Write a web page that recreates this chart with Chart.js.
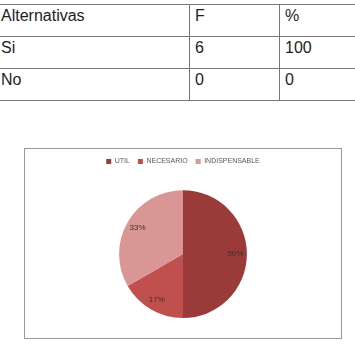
<!DOCTYPE html>
<html>
<head>
<meta charset="utf-8">
<script src="https://cdn.jsdelivr.net/npm/chart.js@4/dist/chart.umd.min.js"></script>
<style>
  body { margin: 0; background: #fff; font-family: "Liberation Sans", Arial, sans-serif; }
  #tabla { position: absolute; left: -5px; top: 4px; border-collapse: collapse; table-layout: fixed; width: 375px; font-size: 16px; color: #222; }
  #tabla td { border: 1px solid #777; height: 32px; padding: 2px 5px 0 5px; vertical-align: top; line-height: 18px; box-sizing: border-box; }
  #box { position: absolute; left: 24px; top: 148px; width: 316px; height: 189px; border: 1px solid #999; }
  #myChart { position: absolute; left: 0; top: 0; }
</style>
</head>
<body>
<table id="tabla">
  <colgroup><col style="width:194px"><col style="width:90px"><col style="width:91px"></colgroup>
  <tr><td>Alternativas</td><td>F</td><td>%</td></tr>
  <tr><td>Si</td><td>6</td><td>100</td></tr>
  <tr><td>No</td><td>0</td><td>0</td></tr>
</table>
<div id="box"><canvas id="myChart" width="316" height="189"></canvas></div>
<script>
const labels = ['UTIL', 'NECESARIO', 'INDISPENSABLE'];
const values = [3, 1, 2];
const colors = ['#9B3B39', '#C0504D', '#D99694'];

// porcentajes dentro de cada porcion
const pctLabels = {
    id: 'pctLabels',
    afterDatasetsDraw(chart) {
        const ctx = chart.ctx;
        const meta = chart.getDatasetMeta(0);
        const total = values.reduce((a, b) => a + b, 0);
        ctx.save();
        ctx.font = '8px "Liberation Sans", Arial, sans-serif';
        ctx.fillStyle = '#333';
        ctx.textAlign = 'center';
        ctx.textBaseline = 'middle';
        meta.data.forEach((arc, i) => {
            const p = arc.getProps(['x', 'y', 'startAngle', 'endAngle', 'outerRadius'], true);
            const mid = (p.startAngle + p.endAngle) / 2;
            const r = p.outerRadius * 0.82;
            ctx.fillText(Math.round(values[i] / total * 100) + '%', p.x + Math.cos(mid) * r, p.y + Math.sin(mid) * r);
        });
        ctx.restore();
    }
};

const config = {
    type: 'pie',
    data: {
        labels: labels,
        datasets: [{
            data: values,
            backgroundColor: colors,
            borderWidth: 0
        }]
    },
    options: {
        responsive: false,
        animation: false,
        layout: { padding: { top: 1, bottom: 20 } },
        plugins: {
            tooltip: { enabled: false },
            // titulo vacio usado como espacio entre leyenda y torta
            title: {
                display: true,
                text: '',
                font: { size: 1 },
                padding: { top: 0, bottom: 14 }
            },
            legend: {
                position: 'top',
                weight: 3000,
                labels: {
                    boxWidth: 5,
                    boxHeight: 5,
                    padding: 8,
                    color: '#595959',
                    font: { size: 7, family: '"Liberation Sans", Arial, sans-serif' }
                }
            }
        }
    },
    plugins: [pctLabels]
};

const myChart = new Chart(document.getElementById('myChart'), config);
</script>
</body>
</html>
